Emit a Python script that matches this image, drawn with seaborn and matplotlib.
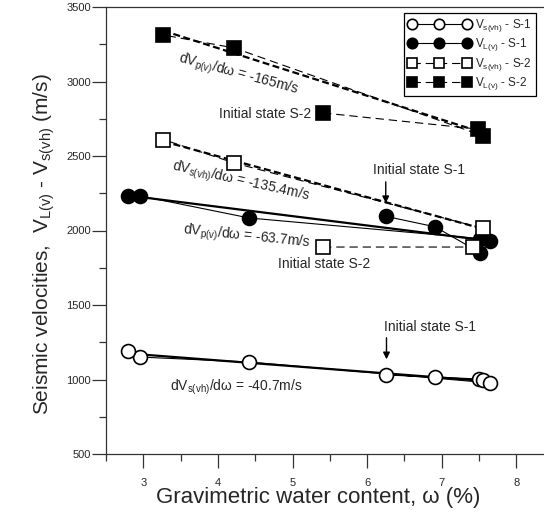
import numpy as np
import pandas as pd
import matplotlib
matplotlib.use("Agg")
import matplotlib.pyplot as plt
import seaborn as sns

sns.set_style("ticks")
plt.rcParams['font.family'] = ['Liberation Sans', 'DejaVu Sans']
plt.rcParams['mathtext.fontset'] = 'custom'
plt.rcParams['mathtext.rm'] = 'Liberation Sans'
plt.rcParams['mathtext.it'] = 'Liberation Sans'
plt.rcParams['lines.scale_dashes'] = False

# data (plotting order follows the measured path; first point = initial state)
vs_s1_x = [6.26, 6.91, 7.50, 7.56, 7.65, 4.42, 2.95, 2.80]
vs_s1_y = [1030, 1017, 1003, 997, 977, 1117, 1151, 1191]

vl_s1_x = [6.25, 6.91, 7.52, 7.65, 7.52, 4.42, 2.96, 2.80]
vl_s1_y = [2095, 2025, 1850, 1930, 1945, 2084, 2232, 2232]

vs_s2_x = [5.41, 7.42, 7.55, 4.22, 3.27]
vs_s2_y = [1889, 1889, 2015, 2453, 2610]

vl_s2_x = [5.41, 7.48, 7.56, 4.22, 3.27]
vl_s2_y = [2789, 2681, 2634, 3225, 3312]

# points used for the trend lines (initial-state points left out for S-2)
fit_start = {'s1_vs': 0, 's1_vl': 0, 's2_vs': 2, 's2_vl': 1}

labels = [r'V$_{\mathregular{s(vh)}}$ - S-1', r'V$_{\mathregular{L(v)}}$ - S-1',
          r'V$_{\mathregular{s(vh)}}$ - S-2', r'V$_{\mathregular{L(v)}}$ - S-2']

series = [
    (vs_s1_x, vs_s1_y, 'o', 'white', '-', fit_start['s1_vs']),
    (vl_s1_x, vl_s1_y, 'o', 'black', '-', fit_start['s1_vl']),
    (vs_s2_x, vs_s2_y, 's', 'white', '--', fit_start['s2_vs']),
    (vl_s2_x, vl_s2_y, 's', 'black', '--', fit_start['s2_vl']),
]

fig = plt.figure(figsize=(5.44, 5.24), dpi=100)
ax = fig.add_axes([106 / 544, 70 / 524, 447.6 / 544, 447 / 524])

for (xs, ys, mk, fc, ls, k), lab in zip(series, labels):
    df = pd.DataFrame({'x': xs, 'y': ys})
    line_kws = dict(color='black', lw=1.6)
    if ls == '--':
        line_kws['dashes'] = (5, 2.5)
    sns.regplot(data=df.iloc[k:], x='x', y='y', scatter=False, ci=None,
                truncate=True, ax=ax, line_kws=line_kws)
    sns.lineplot(data=df, x='x', y='y', sort=False, estimator=None, ax=ax,
                 color='black', lw=0.8, marker=mk, markersize=10.5 if mk == 's' else 10,
                 markerfacecolor=fc, markeredgecolor='black', markeredgewidth=1.2,
                 label=lab)
    if ls == '--':
        ax.lines[-1].set_dashes((6, 3.5))

# slope annotations
fs = 10
ax.text(4.27, 3043, r'dV$_{\mathregular{p(v)}}$/dω = -165m/s', fontsize=fs,
        rotation=-15, ha='center', va='center')
ax.text(4.30, 2326, r'dV$_{\mathregular{s(vh)}}$/dω = -135.4m/s', fontsize=fs,
        rotation=-12.5, ha='center', va='center')
ax.text(4.38, 1956, r'dV$_{\mathregular{p(v)}}$/dω = -63.7m/s', fontsize=fs,
        rotation=-6, ha='center', va='center')
ax.text(4.25, 950, r'dV$_{\mathregular{s(vh)}}$/dω = -40.7m/s', fontsize=fs,
        ha='center', va='center')

# initial state labels
ax.text(5.25, 2780, 'Initial state S-2', fontsize=fs, ha='right', va='center')
ax.text(4.81, 1775, 'Initial state S-2', fontsize=fs, ha='left', va='center')
ax.text(6.08, 2406, 'Initial state S-1', fontsize=fs, ha='left', va='center')
ax.text(6.22, 1352, 'Initial state S-1', fontsize=fs, ha='left', va='center')
arrow = dict(arrowstyle='-|>', color='black', lw=1.0, mutation_scale=10)
ax.annotate('', xy=(6.25, 2165), xytext=(6.25, 2345), arrowprops=arrow)
ax.annotate('', xy=(6.26, 1117), xytext=(6.26, 1299), arrowprops=arrow)

ax.set_xlim(2.5, 8.5)
ax.set_ylim(500, 3500)
ax.set_xticks([3, 4, 5, 6, 7, 8])
ax.set_xticks(np.arange(2.5, 8.6, 0.5), minor=True)
ax.set_yticks([500, 1000, 1500, 2000, 2500, 3000, 3500])
ax.set_yticks(np.arange(750, 3500, 500), minor=True)
ax.tick_params(axis='both', which='major', direction='out', length=10, width=0.9,
               labelsize=8, color='#333333')
ax.tick_params(axis='both', which='minor', direction='out', length=5, width=0.9,
               color='#333333')
ax.tick_params(axis='x', which='major', pad=7)
ax.tick_params(axis='y', which='major', pad=1)
for s in ax.spines.values():
    s.set_linewidth(0.9)
    s.set_color('#333333')

ax.set_xlabel('Gravimetric water content, ω (%)', fontsize=16)
ax.xaxis.set_label_coords(0.474, -0.074)
ax.set_ylabel(r'Seismic velocities,  V$_{\mathregular{L(v)}}$ - V$_{\mathregular{s(vh)}}$ (m/s)',
              fontsize=15)
ax.yaxis.set_label_coords(-0.11, 0.47)

ax.legend(loc='upper left', bbox_to_anchor=(398 / 544, 1 - 7 / 524),
          bbox_transform=fig.transFigure, fontsize=8.5, numpoints=3,
          markerscale=0.75, handlelength=5.3, frameon=True, fancybox=False,
          edgecolor='black', framealpha=1, borderpad=0.35, labelspacing=0.2,
          handletextpad=0.4)
ax.get_legend().get_frame().set_linewidth(0.9)

plt.savefig('out.png', dpi=100)
